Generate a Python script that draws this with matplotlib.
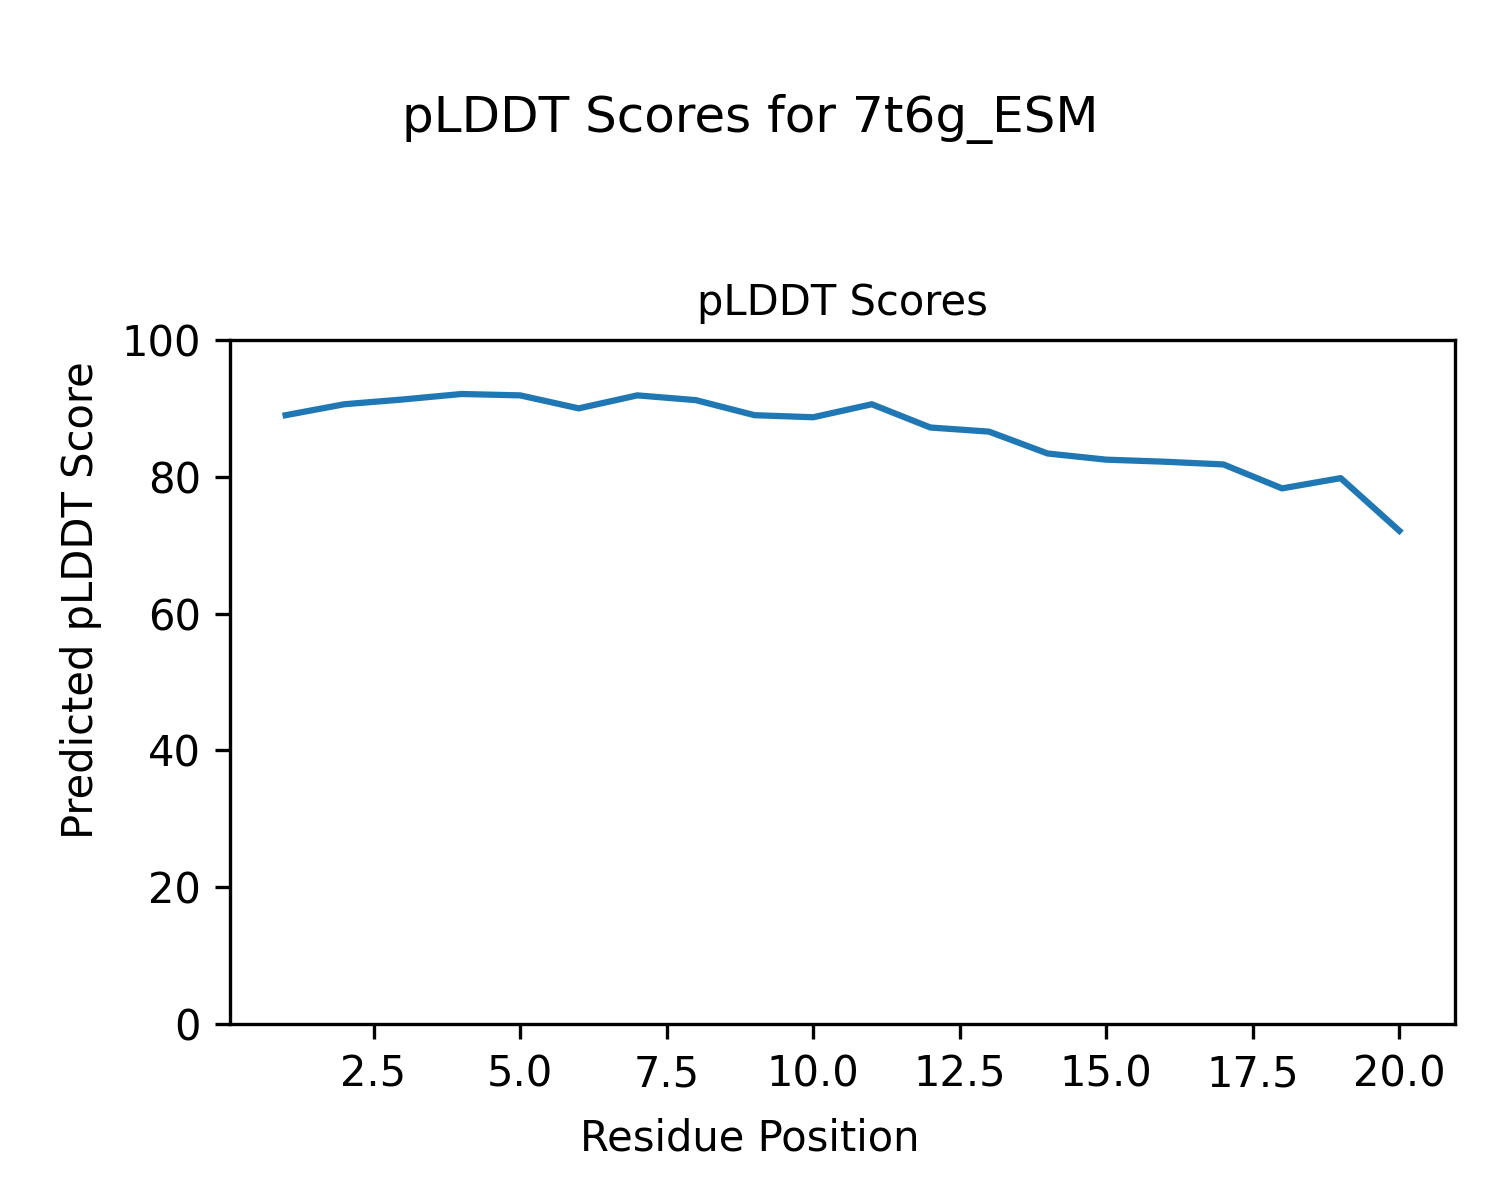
import numpy as np
import matplotlib
matplotlib.use("Agg")
import matplotlib.pyplot as plt

# residue positions and pLDDT scores
residues = np.arange(1, 21)
plddt = [89.0, 90.6, 91.3, 92.1, 91.9, 90.0, 91.9, 91.2, 89.0, 88.7,
         90.6, 87.2, 86.6, 83.4, 82.5, 82.2, 81.8, 78.3, 79.8, 72.1]

fig = plt.figure(figsize=(5, 4), dpi=300)
ax = fig.add_axes([0.1533, 0.1467, 0.8167, 0.57])
ax.plot(residues, plddt, color='#1f77b4')
ax.set_ylim(0, 100)
ax.set_title("pLDDT Scores", fontsize=10)

fig.suptitle("pLDDT Scores for 7t6g_ESM", fontsize=12, y=0.922)
fig.supxlabel("Residue Position", fontsize=10, y=0.034)
fig.supylabel("Predicted pLDDT Score", fontsize=10, x=0.04)

fig.savefig('out.png', dpi=300)
